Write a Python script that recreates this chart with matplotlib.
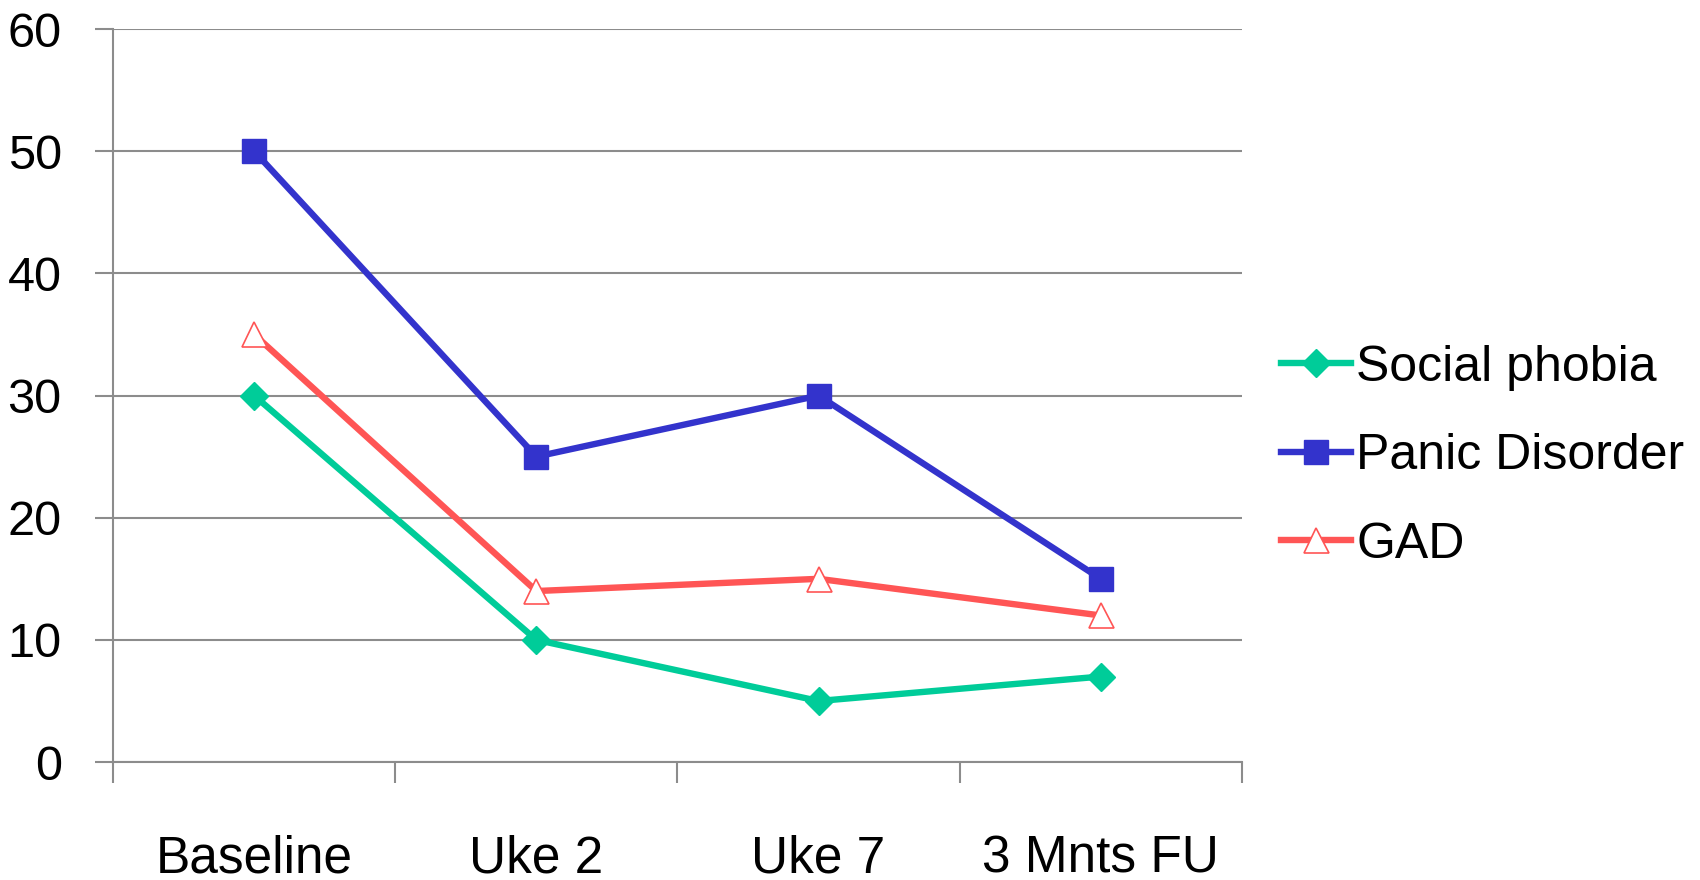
import matplotlib
matplotlib.use("Agg")
import matplotlib.pyplot as plt
from matplotlib.ticker import FixedLocator

categories = ["Baseline", "Uke 2", "Uke 7", "3 Mnts FU"]
social_phobia = [30, 10, 5, 7]
panic_disorder = [50, 25, 30, 15]
gad = [35, 14, 15, 12]
y_ticks = [0, 10, 20, 30, 40, 50, 60]

plt.rcParams['font.family'] = ['Liberation Sans', 'DejaVu Sans']

fig = plt.figure(figsize=(17, 8.8), dpi=100)
ax = fig.add_axes([0.0665, 0.134, 0.664, 0.833])

x = list(range(len(categories)))
grid_col = "#8c8c8c"

ax.plot(x, social_phobia, color="#00cc99", lw=4.6, marker="D",
        markersize=14, label="Social phobia", zorder=3)
ax.plot(x, panic_disorder, color="#3333cc", lw=4.6, marker="s",
        markersize=17, label="Panic Disorder", zorder=3)
ax.plot(x, gad, color="#ff5555", lw=4.6, marker="^", markersize=18,
        markerfacecolor="white", markeredgecolor="#ff5555",
        markeredgewidth=1.2, label="GAD", zorder=3)

ax.set_xlim(-0.5, len(categories) - 0.5)
ax.set_ylim(0, 60)
ax.set_yticks(y_ticks)
ax.set_yticklabels([str(v) for v in y_ticks])
ax.set_xticks(x)
ax.set_xticklabels(categories)
ax.xaxis.set_minor_locator(FixedLocator([i - 0.5 for i in range(len(categories) + 1)]))

ax.tick_params(axis="x", which="major", length=0, pad=52, labelsize=37)
ax.tick_params(axis="x", which="minor", length=15, width=1.5, color=grid_col)
ax.tick_params(axis="y", length=13, width=1.5, color=grid_col, pad=24, labelsize=35)

ax.yaxis.grid(True, color=grid_col, lw=1.5)
ax.set_axisbelow(True)
for s in ["top", "right"]:
    ax.spines[s].set_visible(False)
for s in ["left", "bottom"]:
    ax.spines[s].set_color(grid_col)
    ax.spines[s].set_linewidth(1.5)

ax.legend(loc="center left", bbox_to_anchor=(0.995, 0.417), frameon=False,
          fontsize=36, handlelength=1.4, handletextpad=0.1, labelspacing=0.85)

fig.savefig("out.png", dpi=100)
